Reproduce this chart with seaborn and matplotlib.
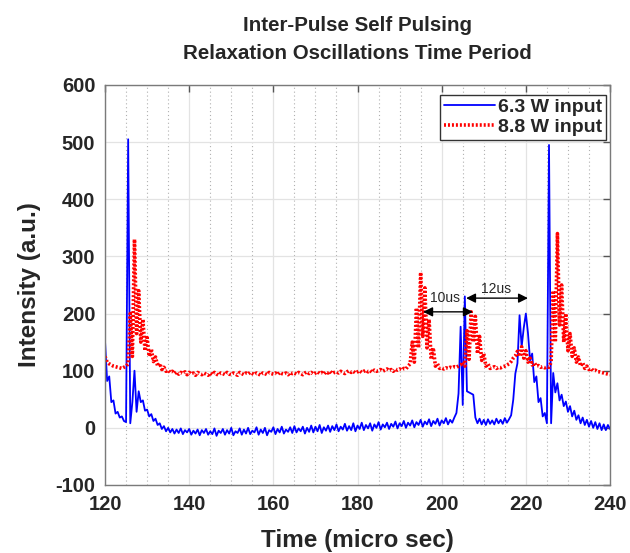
import numpy as np
import pandas as pd
import seaborn as sns
import matplotlib
matplotlib.use("Agg")
import matplotlib.pyplot as plt
from matplotlib.ticker import MultipleLocator

# sample times (micro sec), 0.5 us spacing
time_us = np.arange(120.0, 240.01, 0.5)

blue_63W = [
    152, 82, 90, 45, 48, 25, 28, 18, 20, 12,
    10, 505, 8, 45, 100, 28, 64, 45, 48, 30,
    32, 20, 24, 12, 16, 5, 8, -2, 3, -6,
    0, -8, -2, -10, -3, -9, -1, -11, -4, -8,
    -2, -12, -5, -10, -3, -13, -4, -9, -2, -12,
    -6, -11, -1, -14, -5, -9, -2, -12, -4, -10,
    0, -13, -6, -9, -1, -12, -3, -10, 0, -11,
    -5, -8, 1, -12, -3, -9, 0, -13, -4, -7,
    1, -11, -2, -8, 2, -10, -3, -7, 1, -9,
    3, -8, -1, -6, 2, -10, 0, -7, 4, -8,
    2, -6, 5, -9, 1, -5, 4, -7, 3, -4,
    6, -6, 2, -3, 7, -5, 3, -4, 8, -6,
    4, -2, 9, -4, 5, -1, 8, -5, 6, 0,
    10, -3, 6, 1, 9, -2, 7, 2, 11, -1,
    8, 3, 12, 0, 9, 4, 13, 1, 10, 5,
    14, 2, 11, 6, 15, 3, 12, 7, 16, 4,
    13, 8, 17, 6, 14, 9, 18, 26, 60, 177,
    40, 230, 64, 62, 60, 58, 18, 8, 16, 6,
    14, 5, 15, 7, 13, 6, 16, 8, 14, 7,
    17, 9, 15, 22, 49, 95, 113, 197, 142, 175,
    200, 166, 118, 130, 80, 90, 45, 52, 20, 26,
    8, 495, 8, 96, 62, 78, 48, 58, 38, 46,
    28, 38, 20, 30, 14, 22, 8, 18, 5, 14,
    2, 12, 0, 10, -2, 8, -4, 6, -4, 5,
    -2,
]

red_88W = [
    125, 115, 112, 110, 108, 107, 106, 105, 104, 106,
    108, 112, 200, 125, 330, 165, 240, 150, 190, 135,
    158, 125, 138, 116, 124, 108, 113, 102, 106, 99,
    101, 97, 99, 95, 98, 94, 97, 95, 98, 93,
    97, 94, 96, 92, 97, 95, 93, 96, 94, 92,
    96, 93, 97, 94, 92, 96, 95, 93, 97, 94,
    93, 96, 94, 92, 97, 95, 93, 96, 94, 97,
    95, 93, 96, 94, 92, 96, 95, 93, 97, 95,
    94, 96, 93, 97, 95, 94, 96, 93, 97, 95,
    96, 94, 97, 95, 93, 96, 98, 95, 97, 94,
    96, 98, 95, 97, 94, 98, 96, 99, 95, 97,
    98, 96, 99, 97, 95, 98, 100, 97, 99, 96,
    98, 100, 97, 99, 101, 98, 100, 97, 101, 99,
    100, 102, 99, 101, 103, 100, 102, 99, 103, 101,
    103, 101, 104, 103, 108, 112, 150, 115, 210, 140,
    272, 160, 245, 140, 190, 120, 140, 108, 112, 104,
    105, 103, 105, 104, 106, 105, 107, 106, 108, 110,
    115, 108, 170, 120, 203, 150, 195, 130, 160, 118,
    130, 108, 112, 104, 105, 107, 104, 106, 105, 107,
    108, 110, 112, 116, 122, 126, 134, 125, 142, 122,
    135, 115, 122, 110, 114, 108, 109, 106, 107, 105,
    107, 106, 115, 240, 150, 340, 180, 250, 150, 200,
    135, 165, 125, 140, 115, 124, 108, 114, 104, 108,
    102, 104, 100, 101, 98, 98, 97, 96, 95, 94,
    93,
]

series_labels = ["6.3 W input", "8.8 W input"]
title_text = "Inter-Pulse Self Pulsing\nRelaxation Oscillations Time Period"
x_label = "Time (micro sec)"
y_label = "Intensity (a.u.)"

df = pd.DataFrame({"t": time_us, "blue": blue_63W, "red": red_88W})

sns.set_style("white")
plt.rcParams["font.family"] = ["Liberation Sans", "DejaVu Sans"]
plt.rcParams["axes.unicode_minus"] = False

fig = plt.figure(figsize=(6.3, 5.53), dpi=100)
ax = fig.add_axes([0.1667, 0.123, 0.8016, 0.7233])

sns.lineplot(data=df, x="t", y="blue", ax=ax, color="#0000ff", linewidth=1.3,
             label=series_labels[0], estimator=None)
sns.lineplot(data=df, x="t", y="red", ax=ax, color="#ff0000", linewidth=2.6,
             linestyle=(0, (0.55, 0.55)), label=series_labels[1], estimator=None)

ax.set_xlim(120, 240)
ax.set_ylim(-100, 600)
ax.xaxis.set_major_locator(MultipleLocator(20))
ax.xaxis.set_minor_locator(MultipleLocator(5))
ax.yaxis.set_major_locator(MultipleLocator(100))

ax.grid(which="major", axis="both", color="#e3e3e3", linewidth=0.9, linestyle="-")
ax.grid(which="minor", axis="x", color="#b0b0b0", linewidth=0.8, linestyle=(0, (1, 2.5)))
ax.set_axisbelow(True)

for s in ax.spines.values():
    s.set_visible(True)
    s.set_color("#7a7a7a")
    s.set_linewidth(1.0)

ax.tick_params(which="major", direction="in", length=5, width=1, color="#555555",
               top=True, right=True, labelsize=14.5, pad=7)
ax.tick_params(which="minor", length=0)
for lab in ax.get_xticklabels() + ax.get_yticklabels():
    lab.set_fontweight("bold")

ax.set_xlabel(x_label, fontsize=17.5, fontweight="bold", labelpad=11)
ax.set_ylabel(y_label, fontsize=17.5, fontweight="bold", labelpad=10)
ax.set_title(title_text, fontsize=14.8, fontweight="bold", pad=19, linespacing=1.55)

leg = ax.legend(loc="upper right", bbox_to_anchor=(0.993, 0.976), borderaxespad=0,
                frameon=True, fancybox=False, framealpha=1, edgecolor="#333333",
                handlelength=2.6, handletextpad=0.2, borderpad=0.2,
                labelspacing=0.1, prop={"weight": "bold", "size": 14})
leg.get_frame().set_linewidth(1.0)

# period annotations
arrow = dict(arrowstyle="<|-|>", color="black", lw=1.0, mutation_scale=14,
             shrinkA=0, shrinkB=0)
ax.annotate("", xy=(195.6, 203), xytext=(207.4, 203), arrowprops=arrow)
ax.annotate("", xy=(205.8, 227), xytext=(220.5, 227), arrowprops=arrow)
ax.text(200.8, 228, "10us", fontsize=10, ha="center", va="center")
ax.text(213.0, 243, "12us", fontsize=10, ha="center", va="center")

fig.savefig("out.png", dpi=100)
